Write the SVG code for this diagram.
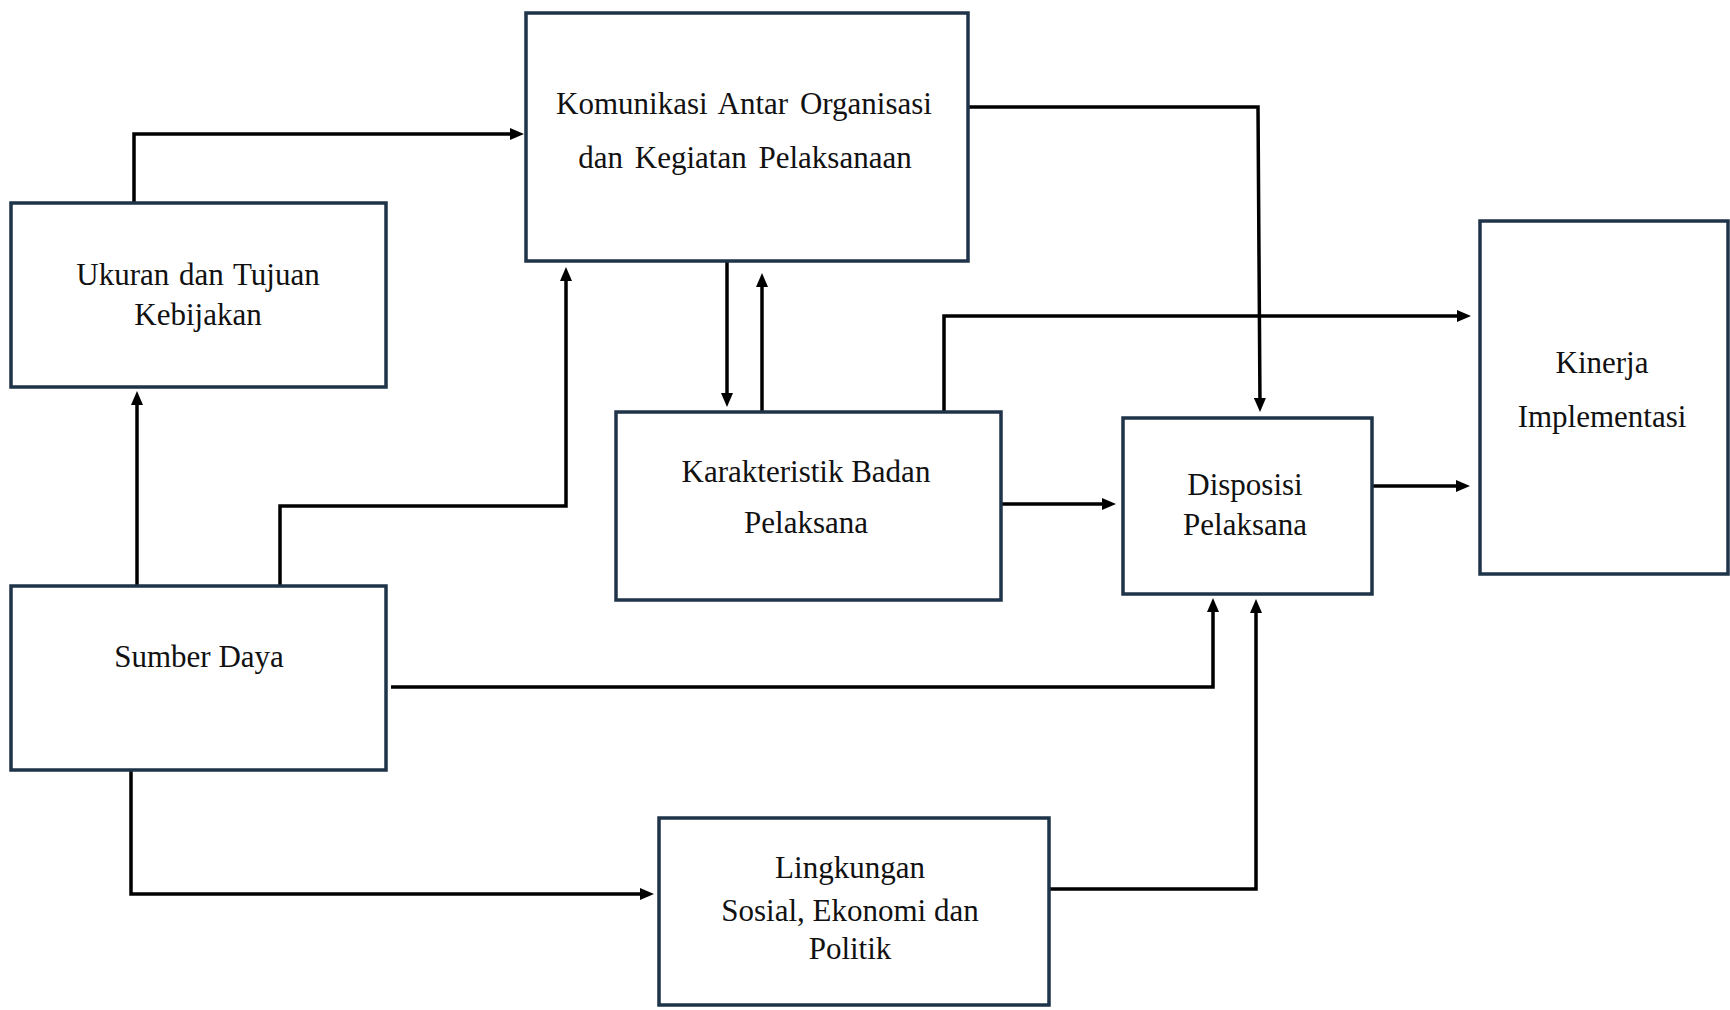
<svg xmlns="http://www.w3.org/2000/svg" width="1730" height="1010" viewBox="0 0 1730 1010">
<style>
.box{fill:#fff;stroke:#1f3349;stroke-width:3.5}
.lbl{font-family:"Liberation Serif","Times New Roman",serif;font-size:31px;fill:#111;text-anchor:middle}
.con{fill:none;stroke:#000;stroke-width:3.5;marker-end:url(#ah)}
</style>
<defs>
<marker id="ah" viewBox="0 0 14 12" refX="8" refY="6" markerUnits="userSpaceOnUse" markerWidth="14" markerHeight="12" orient="auto">
<path d="M0,0 L14,6 L0,12 z" fill="#000"/>
</marker>
</defs>
<rect width="1730" height="1010" fill="#fff"/>
<g id="connectors">
<path class="con" d="M134,203 V134 H518"/>
<path class="con" d="M137,586 V397"/>
<path class="con" d="M280,586 V506 H566 V273"/>
<path class="con" d="M727,262 V401"/>
<path class="con" d="M762,412 V279"/>
<path class="con" d="M944,412 V316 H1465"/>
<path class="con" d="M968,107 H1258 L1260,406"/>
<path class="con" d="M1001,504 H1110"/>
<path class="con" d="M1373,486 H1464"/>
<path class="con" d="M391,687 H1213 V604"/>
<path class="con" d="M131,770 V894 H648"/>
<path class="con" d="M1049,889 H1256 V605"/>
</g>
<g id="komunikasi">
<rect class="box" x="526" y="13" width="442" height="248"/>
<text class="lbl" x="744" y="114" word-spacing="4">Komunikasi Antar Organisasi</text>
<text class="lbl" x="745" y="168" word-spacing="4">dan Kegiatan Pelaksanaan</text>
</g>
<g id="ukuran">
<rect class="box" x="11" y="203" width="375" height="184"/>
<text class="lbl" x="198" y="285" word-spacing="2">Ukuran dan Tujuan</text>
<text class="lbl" x="198" y="325">Kebijakan</text>
</g>
<g id="karakteristik">
<rect class="box" x="616" y="412" width="385" height="188"/>
<text class="lbl" x="806" y="482">Karakteristik Badan</text>
<text class="lbl" x="806" y="533">Pelaksana</text>
</g>
<g id="disposisi">
<rect class="box" x="1123" y="418" width="249" height="176"/>
<text class="lbl" x="1245" y="495">Disposisi</text>
<text class="lbl" x="1245" y="535">Pelaksana</text>
</g>
<g id="kinerja">
<rect class="box" x="1480" y="221" width="248" height="353"/>
<text class="lbl" x="1602" y="373">Kinerja</text>
<text class="lbl" x="1602" y="427">Implementasi</text>
</g>
<g id="sumber">
<rect class="box" x="11" y="586" width="375" height="184"/>
<text class="lbl" x="199" y="667">Sumber Daya</text>
</g>
<g id="lingkungan">
<rect class="box" x="659" y="818" width="390" height="187"/>
<text class="lbl" x="850" y="878">Lingkungan</text>
<text class="lbl" x="850" y="921">Sosial, Ekonomi dan</text>
<text class="lbl" x="850" y="959">Politik</text>
</g>
</svg>
